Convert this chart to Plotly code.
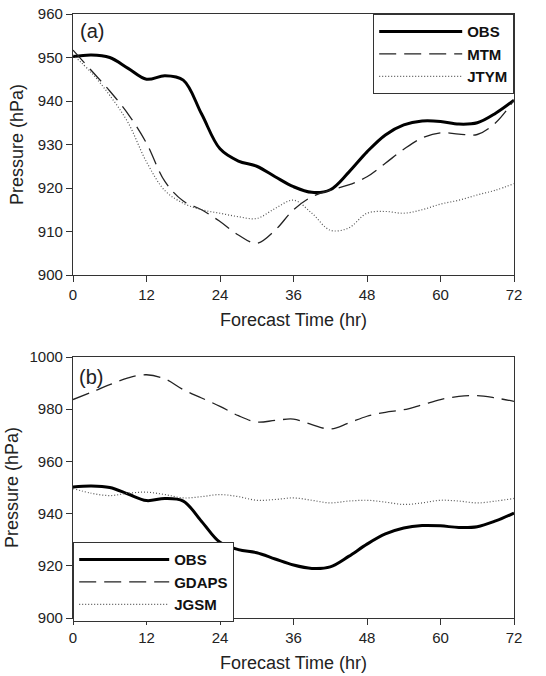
import plotly.graph_objects as go

hours = [0, 3, 6, 9, 12, 15, 18, 21, 24, 27, 30, 33, 36, 39, 42, 45, 48, 51, 54, 57, 60, 63, 66, 69, 72]

obs = [950.2, 950.6, 950.0, 947.5, 945.0, 945.8, 944.8, 937.0, 929.0, 926.2, 925.0, 922.6, 920.3, 919.0, 919.6, 923.6, 928.3, 932.2, 934.5, 935.4, 935.3, 934.7, 935.0, 937.2, 940.2]
mtm = [951.7, 947.0, 942.3, 937.0, 930.3, 921.5, 917.0, 915.0, 912.3, 909.2, 907.3, 910.3, 915.0, 918.0, 919.5, 920.7, 922.6, 925.7, 928.9, 931.5, 932.7, 932.4, 932.3, 935.0, 940.2]
jtym = [950.6, 946.5, 941.3, 935.0, 926.0, 919.4, 916.5, 915.0, 914.2, 913.4, 913.0, 915.3, 917.2, 914.2, 910.3, 910.8, 914.2, 914.6, 914.2, 915.0, 916.3, 917.2, 918.4, 919.5, 921.0]

gdaps = [983.7, 986.5, 989.4, 992.0, 993.2, 991.6, 987.5, 984.3, 981.1, 977.5, 975.1, 975.7, 976.2, 974.1, 972.4, 974.7, 977.3, 978.8, 979.8, 981.7, 983.7, 984.9, 985.2, 984.3, 983.0]
jgsm = [949.6, 947.8, 946.9, 947.8, 948.2, 947.3, 946.0, 946.5, 947.3, 946.5, 945.1, 945.4, 946.0, 945.1, 944.1, 944.8, 945.1, 944.4, 943.5, 944.1, 945.1, 944.8, 944.1, 944.8, 945.8]

x_ticks = [0, 12, 24, 36, 48, 60, 72]
y_ticks_a = [900, 910, 920, 930, 940, 950, 960]
y_ticks_b = [900, 920, 940, 960, 980, 1000]

W, H = 546, 676
FONT = "Arial, Liberation Sans, sans-serif"
AX = "#333333"

fig = go.Figure()

def add(y, name, style, xa, ya, legend):
    if style == "obs":
        line = dict(color="black", width=3, shape="spline")
    elif style == "dash":
        line = dict(color="#222222", width=1.3, dash="17px,8px", shape="spline")
    else:
        line = dict(color="#555555", width=1.2, dash="1px,2px", shape="spline")
    fig.add_trace(go.Scatter(x=hours, y=y, mode="lines", name=name, line=line,
                             xaxis=xa, yaxis=ya, legend=legend))

add(obs, "OBS", "obs", "x", "y", "legend")
add(mtm, "MTM", "dash", "x", "y", "legend")
add(jtym, "JTYM", "dot", "x", "y", "legend")
add(obs, "OBS", "obs", "x2", "y2", "legend2")
add(gdaps, "GDAPS", "dash", "x2", "y2", "legend2")
add(jgsm, "JGSM", "dot", "x2", "y2", "legend2")

xd = [73 / W, 514 / W]
axis_common = dict(showgrid=False, zeroline=False, showline=True, linecolor=AX, linewidth=1.3,
                   mirror=True, ticks="outside", ticklen=6, tickcolor=AX, tickwidth=1.3,
                   automargin=False,
                   tickfont=dict(family=FONT, size=15, color="#222"))
title_font = dict(size=18, family=FONT, color="#222")

fig.update_layout(
    width=W, height=H, margin=dict(l=0, r=0, t=0, b=0, autoexpand=False),
    paper_bgcolor="white", plot_bgcolor="white",
    font=dict(family=FONT, color="#222"),
    xaxis=dict(domain=xd, anchor="y", range=[0, 72], tickvals=x_ticks,
               title=dict(text="Forecast Time (hr)", font=title_font, standoff=11),
               **axis_common),
    yaxis=dict(domain=[1 - 275 / H, 1 - 14 / H], anchor="x", range=[900, 960], tickvals=y_ticks_a,
               title=dict(text="Pressure (hPa)", font=title_font, standoff=9),
               **axis_common),
    xaxis2=dict(domain=xd, anchor="y2", range=[0, 72], tickvals=x_ticks,
                title=dict(text="Forecast Time (hr)", font=title_font, standoff=11),
                **axis_common),
    yaxis2=dict(domain=[1 - 618 / H, 1 - 357 / H], anchor="x2", range=[900, 1000], tickvals=y_ticks_b,
                title=dict(text="Pressure (hPa)", font=title_font, standoff=6),
                **axis_common),
    legend=dict(x=373 / W, y=1 - 14 / H, xanchor="left", yanchor="top",
                bgcolor="white", bordercolor=AX, borderwidth=1.2,
                font=dict(family=FONT, size=15, color="#111", weight="bold"),
                itemwidth=83, tracegroupgap=0),
    legend2=dict(x=73 / W, y=1 - 542 / H, xanchor="left", yanchor="top",
                 bgcolor="white", bordercolor=AX, borderwidth=1.2,
                 font=dict(family=FONT, size=15, color="#111", weight="bold"),
                 itemwidth=90, tracegroupgap=0),
    annotations=[
        dict(text="(a)", x=0, y=1, xref="x domain", yref="y domain", xanchor="left",
             yanchor="top", xshift=5, yshift=-4, showarrow=False,
             font=dict(family=FONT, size=20, color="#222")),
        dict(text="(b)", x=0, y=1, xref="x2 domain", yref="y2 domain", xanchor="left",
             yanchor="top", xshift=4, yshift=-7, showarrow=False,
             font=dict(family=FONT, size=20, color="#222")),
    ],
)

fig.write_html("out.html", config={"displayModeBar": False},
               post_script="document.body.style.margin='0';document.body.style.overflow='hidden';")
